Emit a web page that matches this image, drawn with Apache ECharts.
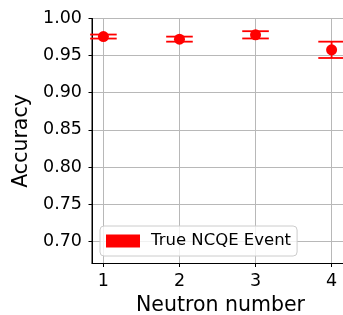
<!DOCTYPE html>
<html>
<head>
<meta charset="utf-8">
<script src="https://cdn.jsdelivr.net/npm/echarts@6/dist/echarts.min.js"></script>
<style>html,body{margin:0;padding:0;background:#fff}#c{width:343px;height:315px}</style>
</head>
<body>
<div id="c"></div>
<script>
const neutronNumbers = [1, 2, 3, 4];
const accuracy = [0.9757, 0.9722, 0.9780, 0.9578];
const accuracyErr = [0.0027, 0.0034, 0.0049, 0.0110];
const xTicks = [1, 2, 3, 4];
const yTicks = [0.70, 0.75, 0.80, 0.85, 0.90, 0.95, 1.00];
const seriesName = 'True NCQE Event';

const FONT = '"DejaVu Sans", sans-serif';
const chart = echarts.init(document.getElementById('c'), null, {renderer: 'canvas'});

const errData = neutronNumbers.map((x, i) => [x, accuracy[i] - accuracyErr[i], accuracy[i] + accuracyErr[i]]);
const ptData = neutronNumbers.map((x, i) => [x, accuracy[i]]);

chart.setOption({
  animation: false,
  grid: {left: 92, top: 18.5, right: -6, bottom: 51.5, show: true, borderColor: '#000', borderWidth: 1, containLabel: false, outerBoundsMode: 'none'},
  legend: {
    data: [{name: seriesName, icon: 'rect'}],
    left: 100, top: 226,
    itemWidth: 34, itemHeight: 13, itemGap: 0,
    padding: [6, 6, 6, 6],
    backgroundColor: 'rgba(255,255,255,0.8)',
    borderColor: '#cccccc', borderWidth: 1, borderRadius: 4,
    textStyle: {fontFamily: FONT, fontSize: 16.5, color: '#000', padding: [0, 0, 0, 6], lineHeight: 18}
  },
  xAxis: {
    type: 'value', min: 0.85, max: 4.15 + 6 / 76.1,
    name: 'Neutron number', nameLocation: 'middle', nameGap: 32,
    nameTextStyle: {fontFamily: FONT, fontSize: 20.5, color: '#000'},
    axisLine: {show: true, lineStyle: {color: '#000', width: 1}},
    axisTick: {show: true, inside: false, length: 3.5, lineStyle: {color: '#000', width: 1}, customValues: xTicks},
    axisLabel: {fontFamily: FONT, fontSize: 17.5, color: '#000', margin: 9, customValues: xTicks, formatter: v => String(v)},
    splitLine: {show: true, lineStyle: {color: '#b8b8b8', width: 1}}
  },
  yAxis: {
    type: 'value', min: 0.67, max: 1.0,
    name: 'Accuracy', nameLocation: 'middle', nameGap: 57, nameRotate: 90,
    nameTextStyle: {fontFamily: FONT, fontSize: 20.5, color: '#000'},
    axisLine: {show: true, lineStyle: {color: '#000', width: 1}},
    axisTick: {show: true, inside: false, length: 3.5, lineStyle: {color: '#000', width: 1}, customValues: yTicks},
    axisLabel: {fontFamily: FONT, fontSize: 17.5, color: '#000', margin: 10, customValues: yTicks, formatter: v => v.toFixed(2)},
    splitLine: {show: true, lineStyle: {color: '#b8b8b8', width: 1}}
  },
  series: [
    {
      type: 'custom', name: 'err', silent: true, z: 3,
      data: errData,
      renderItem: function (params, api) {
        const x = api.value(0);
        const lo = api.coord([x, api.value(1)]);
        const hi = api.coord([x, api.value(2)]);
        const hw = 13.3;
        const style = {stroke: '#ff0000', lineWidth: 1.8};
        return {type: 'group', children: [
          {type: 'line', shape: {x1: lo[0], y1: lo[1], x2: hi[0], y2: hi[1]}, style: style},
          {type: 'line', shape: {x1: lo[0] - hw, y1: lo[1], x2: lo[0] + hw, y2: lo[1]}, style: style},
          {type: 'line', shape: {x1: hi[0] - hw, y1: hi[1], x2: hi[0] + hw, y2: hi[1]}, style: style}
        ]};
      },
      encode: {x: 0, y: [1, 2]}
    },
    {
      type: 'scatter', name: seriesName, z: 4,
      data: ptData, symbol: 'circle', symbolSize: 11,
      itemStyle: {color: '#ff0000', opacity: 1}
    }
  ]
});
</script>
</body>
</html>
